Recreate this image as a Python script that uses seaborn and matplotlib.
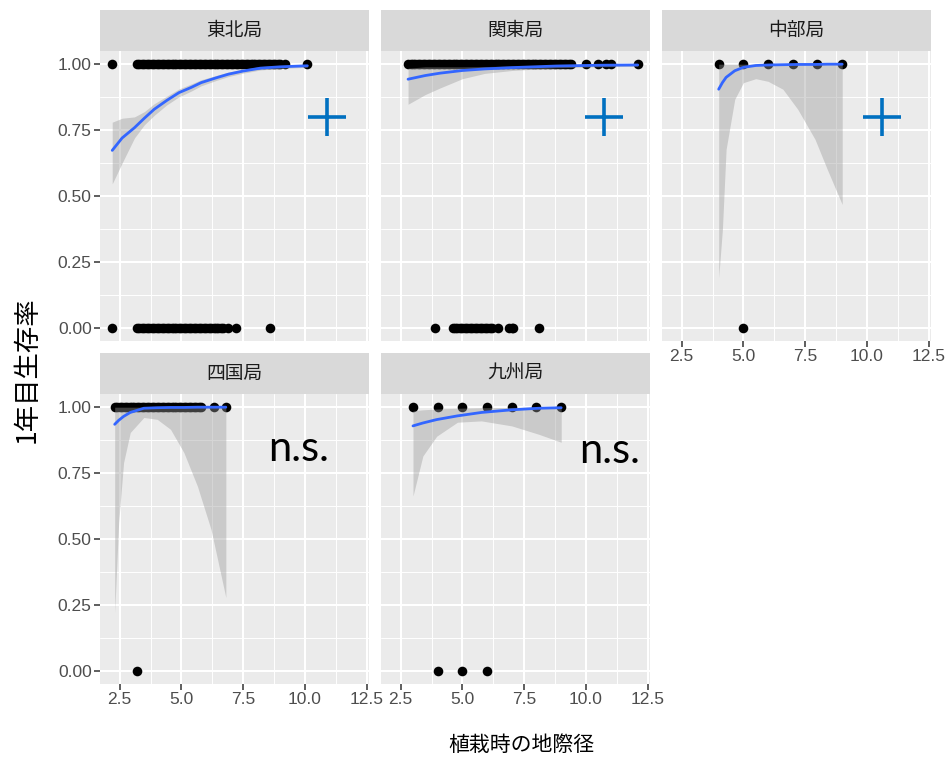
import matplotlib
matplotlib.use("Agg")
import matplotlib.pyplot as plt
import pandas as pd
import seaborn as sns

REGIONS = ["東北局", "関東局", "中部局", "四国局", "九州局"]

# Diameters of planted trees by fate (1 = alive after year 1, 0 = dead)
ALIVE = {
    "東北局": [2.2,
               3.2, 3.3, 3.4, 3.5, 3.6, 3.7, 3.8, 3.9, 4.0, 4.1, 4.2, 4.3, 4.4,
               4.5, 4.6, 4.7, 4.8, 4.9, 5.0, 5.1, 5.2, 5.3, 5.4, 5.5, 5.6, 5.7,
               5.8, 5.9, 6.0, 6.1, 6.2, 6.3, 6.4, 6.5, 6.6, 6.7, 6.8, 6.9, 7.0,
               7.1, 7.2, 7.3, 7.4, 7.5, 7.6, 7.7, 7.8, 7.9, 8.0, 8.1, 8.2, 8.3,
               8.4, 8.5, 8.6, 8.7, 8.8, 8.9, 9.0, 9.2, 10.1],
    "関東局": [2.8, 2.9, 3.0, 3.1, 3.2, 3.3, 3.4, 3.5, 3.6, 3.7, 3.8, 3.9, 4.0,
               4.1, 4.2, 4.3, 4.4, 4.5, 4.6, 4.7, 4.8, 4.9, 5.0, 5.1, 5.2, 5.3,
               5.4, 5.5, 5.6, 5.7, 5.8, 5.9, 6.0, 6.1, 6.2, 6.3, 6.4, 6.5, 6.6,
               6.7, 6.8, 6.9, 7.0, 7.1, 7.2, 7.3, 7.4, 7.5, 7.6, 7.7, 7.8, 7.9,
               8.0, 8.1, 8.2, 8.3, 8.4, 8.5, 8.6, 8.7, 8.8, 8.9, 9.0, 9.1, 9.2,
               9.3, 9.4, 10.0, 10.5, 10.8, 11.0, 12.1],
    "中部局": [4.0, 5.0, 6.0, 7.0, 8.0, 9.0],
    "四国局": [2.3, 2.4, 2.5, 2.6, 2.7, 2.8, 2.9, 3.0, 3.1, 3.2, 3.3, 3.4, 3.5,
               3.6, 3.7, 3.8, 3.9, 4.0, 4.1, 4.2, 4.3, 4.4, 4.5, 4.6, 4.7, 4.8,
               4.9, 5.0, 5.1, 5.2, 5.3, 5.4, 5.5, 5.6, 5.7, 5.8, 6.3, 6.8],
    "九州局": [3.0, 4.0, 5.0, 6.0, 7.0, 8.0, 9.0],
}
DEAD = {
    "東北局": [2.2,
               3.2, 3.3, 3.4, 3.5, 3.6, 3.7, 3.8, 3.9, 4.0, 4.1, 4.2, 4.3, 4.4,
               4.5, 4.6, 4.7, 4.8, 4.9, 5.0, 5.1, 5.2, 5.3, 5.4, 5.5, 5.6, 5.7,
               5.8, 5.9, 6.0, 6.1, 6.2, 6.3, 6.4, 6.5, 6.6, 6.7, 6.9, 7.2, 8.6],
    "関東局": [3.9, 4.6, 4.7, 4.8, 4.9, 5.0, 5.1, 5.2, 5.3, 5.4, 5.5, 5.6, 5.7,
               5.8, 5.9, 6.0, 6.1, 6.2, 6.45, 6.9, 7.0, 7.05, 8.1],
    "中部局": [5.0],
    "四国局": [3.2],
    "九州局": [4.0, 5.0, 6.0],
}

# Logistic fit: x, fitted value, lower / upper CI
FIT_X = {
    "東北局": [2.2, 2.6, 3.1, 3.5, 3.9, 4.4, 4.9, 5.4, 5.8, 6.4, 6.9, 7.5, 8.2, 9.0, 10.1],
    "関東局": [2.8, 3.5, 4.1, 5.0, 5.9, 7.0, 8.8, 10.5, 12.1],
    "中部局": [4.0, 4.15, 4.3, 4.65, 5.0, 5.5, 6.0, 6.6, 7.2, 7.9, 8.4, 9.0],
    "四国局": [2.3, 2.46, 2.66, 2.93, 3.48, 4.02, 4.56, 5.1, 5.65, 6.2, 6.8],
    "九州局": [3.0, 3.4, 3.96, 4.8, 5.77, 7.0, 8.1, 9.0],
}
FIT_Y = {
    "東北局": [0.673, 0.72, 0.759, 0.795, 0.829, 0.862, 0.892, 0.912, 0.93, 0.948,
               0.962, 0.974, 0.985, 0.99, 0.994],
    "関東局": [0.943, 0.957, 0.966, 0.976, 0.982, 0.987, 0.993, 0.996, 0.997],
    "中部局": [0.905, 0.93, 0.95, 0.975, 0.988, 0.995, 0.997, 0.998, 0.999, 0.999,
               1.0, 1.0],
    "四国局": [0.935, 0.95, 0.965, 0.98, 0.996, 0.998, 0.999, 0.999, 1.0, 1.0, 1.0],
    "九州局": [0.929, 0.94, 0.953, 0.967, 0.98, 0.99, 0.996, 0.998],
}
FIT_LO = {
    "東北局": [0.546, 0.625, 0.72, 0.77, 0.806, 0.845, 0.876, 0.898, 0.918, 0.938,
               0.953, 0.966, 0.978, 0.984, 0.988],
    "関東局": [0.848, 0.885, 0.91, 0.945, 0.965, 0.976, 0.986, 0.99, 0.992],
    "中部局": [0.19, 0.373, 0.677, 0.867, 0.93, 0.945, 0.935, 0.905, 0.829, 0.715,
               0.6, 0.468],
    "四国局": [0.22, 0.562, 0.79, 0.904, 0.961, 0.954, 0.916, 0.828, 0.70, 0.536, 0.278],
    "九州局": [0.663, 0.815, 0.89, 0.943, 0.948, 0.929, 0.897, 0.867],
}
FIT_HI = {
    "東北局": [0.78, 0.795, 0.80, 0.82, 0.85, 0.878, 0.906, 0.925, 0.941, 0.957,
               0.970, 0.981, 0.991, 0.995, 0.998],
    "関東局": [0.985, 0.99, 0.99, 0.99, 0.991, 0.993, 0.996, 0.998, 0.999],
    "中部局": [1.0] * 12,
    "四国局": [1.0] * 11,
    "九州局": [0.986, 0.99, 0.993, 0.996, 0.998, 0.999, 1.0, 1.0],
}

# Significance marks per panel: (label, x, y)
MARKS = {
    "東北局": ("+", 10.9, 0.80),
    "関東局": ("+", 10.75, 0.80),
    "中部局": ("+", 10.6, 0.80),
    "四国局": ("n.s.", 9.75, 0.84),
    "九州局": ("n.s.", 10.95, 0.835),
}

X_TICKS = [2.5, 5.0, 7.5, 10.0, 12.5]
Y_TICKS = [0.0, 0.25, 0.5, 0.75, 1.0]

CJK = ["Noto Sans CJK JP", "DejaVu Sans"]
W, H = 951, 759


def build_points():
    rows = []
    for r in REGIONS:
        rows += [(r, x, 1.0) for x in ALIVE[r]]
        rows += [(r, x, 0.0) for x in DEAD[r]]
    return pd.DataFrame(rows, columns=["region", "diameter", "survival"])


def frac(x0, y0, x1, y1):
    """Pixel box (top-left origin) -> figure fraction rect."""
    return [x0 / W, 1 - y1 / H, (x1 - x0) / W, (y1 - y0) / H]


def main():
    sns.set_theme(style="darkgrid")
    plt.rcParams["font.family"] = ["Liberation Sans", "Noto Sans CJK JP", "DejaVu Sans"]

    df = build_points()
    g = sns.FacetGrid(df, col="region", col_wrap=3, col_order=REGIONS,
                      sharex=True, sharey=True, height=3, aspect=1)
    g.map_dataframe(sns.scatterplot, x="diameter", y="survival",
                    color="black", s=48, linewidth=0, zorder=3)
    g.set_titles("")
    g.set_axis_labels("", "")
    fig = g.figure
    fig.set_size_inches(W / 100, H / 100)

    xmin, xmax = df["diameter"].min(), df["diameter"].max()
    pad = 0.05 * (xmax - xmin)

    cols = [(100, 369), (381, 650), (662, 931)]
    rows = [(51, 341), (394, 684)]
    strips = [(10, 51), (353, 394)]

    for i, r in enumerate(REGIONS):
        ax = g.axes_dict[r]
        ri, ci = divmod(i, 3)
        x0, x1 = cols[ci]
        y0, y1 = rows[ri]
        ax.set_position(frac(x0, y0, x1, y1))

        fit = pd.DataFrame({"diameter": FIT_X[r], "fit": FIT_Y[r],
                            "lo": FIT_LO[r], "hi": FIT_HI[r]})
        ax.fill_between(fit["diameter"], fit["lo"], fit["hi"],
                        color="#999999", alpha=0.4, linewidth=0, zorder=4)
        sns.lineplot(data=fit, x="diameter", y="fit", ax=ax, color="#3366FF",
                     linewidth=2, estimator=None, zorder=5)
        ax.set_xlabel("")
        ax.set_ylabel("")

        label, mx, my = MARKS[r]
        if label == "+":
            ax.plot([mx], [my], marker="+", markersize=28, mew=2.6,
                    color="#0070C0", linestyle="none", zorder=6)
        else:
            ax.text(mx, my, label, fontsize=30, family=["Lato", "DejaVu Sans"],
                    ha="center", va="center", color="black", zorder=6)

        ax.set_xlim(xmin - pad, xmax + pad)
        ax.set_ylim(-0.05, 1.05)
        ax.set_xticks(X_TICKS)
        ax.set_xticks([3.75, 6.25, 8.75, 11.25], minor=True)
        ax.set_yticks(Y_TICKS)
        ax.set_yticks([0.125, 0.375, 0.625, 0.875], minor=True)
        ax.set_xticklabels([f"{v:.1f}" for v in X_TICKS])
        ax.set_yticklabels([f"{v:.2f}" for v in Y_TICKS])
        ax.set_facecolor("#EBEBEB")
        ax.grid(which="major", color="white", linewidth=1.5)
        ax.grid(which="minor", color="white", linewidth=0.7)
        ax.set_axisbelow(True)
        for s in ax.spines.values():
            s.set_visible(False)
        ax.tick_params(which="minor", length=0)
        ax.tick_params(which="major", length=4, width=1.1, color="#333333",
                       labelsize=12.5, labelcolor="#4D4D4D", pad=2)
        show_x = i >= 2
        show_y = ci == 0
        ax.tick_params(axis="x", bottom=show_x, labelbottom=show_x)
        ax.tick_params(axis="y", left=show_y, labelleft=show_y)

        # strip
        sy0, sy1 = strips[ri]
        sax = fig.add_axes(frac(x0, sy0, x1, sy1))
        sax.set_facecolor("#D9D9D9")
        sax.set_xticks([])
        sax.set_yticks([])
        for s in sax.spines.values():
            s.set_visible(False)
        sax.text(0.5, 0.5, r, ha="center", va="center", fontsize=13.5,
                 color="#1A1A1A", family=CJK, transform=sax.transAxes)

    fig.text(521 / W, 1 - 745 / H, "植栽時の地際径", ha="center", va="center",
             fontsize=15, family=CJK, color="black")
    fig.text(27 / W, 1 - 370 / H, "1年目生存率", ha="center", va="center",
             rotation=90, fontsize=19, family=CJK, color="black")

    fig.savefig("out.png", dpi=100, facecolor="white")


if __name__ == "__main__":
    main()
